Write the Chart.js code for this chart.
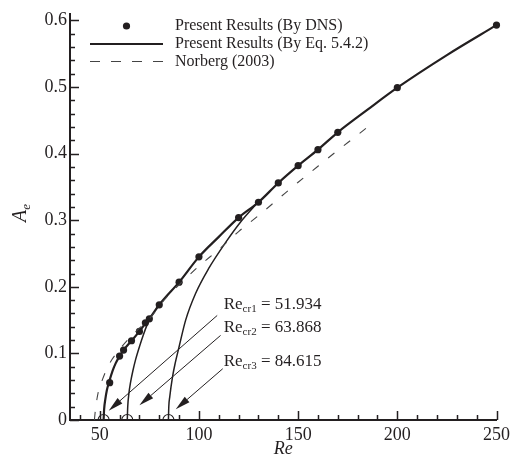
<!DOCTYPE html>
<html>
<head>
<meta charset="utf-8">
<script src="https://cdn.jsdelivr.net/npm/chart.js@4.4.0/dist/chart.umd.min.js"></script>
<style>
  html, body { margin: 0; padding: 0; background: #fff; }
</style>
</head>
<body>
<canvas id="ampChart" width="514" height="459"></canvas>
<script>
// -------------------- DATA --------------------
const xTickValues = [50, 100, 150, 200, 250];
const yTickValues = [0, 0.1, 0.2, 0.3, 0.4, 0.5, 0.6];

// DNS amplitudes
const dnsRe = [55, 60, 62, 66, 70, 73, 75, 80, 90, 100, 120, 130, 140, 150, 160, 170, 200, 250];
const dnsAe = [0.056, 0.096, 0.105, 0.119, 0.133, 0.146, 0.152, 0.173, 0.207, 0.245, 0.304, 0.327, 0.356, 0.382, 0.406, 0.432, 0.499, 0.593];

// Eq. 5.4.2 branches, one per critical Reynolds number
const fit1Re = [51.934, 52.2, 52.8, 53.6, 54.7, 56.5, 58, 60, 62, 66, 70, 73, 75, 80, 90, 100, 110, 120, 130, 140, 150, 160, 170, 185, 200, 225, 250];
const fit1Ae = [0, 0.016, 0.031, 0.045, 0.057, 0.074, 0.085, 0.096, 0.105, 0.119, 0.133, 0.145, 0.152, 0.173, 0.207, 0.245, 0.275, 0.304, 0.327, 0.356, 0.382, 0.406, 0.432, 0.466, 0.499, 0.548, 0.593];
const fit2Re = [63.868, 64.1, 64.7, 65.5, 66.7, 68, 70, 72, 74, 75.5];
const fit2Ae = [0, 0.02, 0.04, 0.056, 0.074, 0.09, 0.11, 0.128, 0.144, 0.154];
const fit3Re = [84.615, 84.8, 85.3, 86.7, 88, 90, 93.3, 98.3, 105, 113.3, 121.7, 130];
const fit3Ae = [0, 0.02, 0.035, 0.065, 0.085, 0.11, 0.15, 0.19, 0.228, 0.266, 0.3, 0.328];

// Norberg (2003)
const norbergRe = [47.3, 47.8, 48.5, 49.5, 51, 53.3, 56, 60, 65, 70, 75, 83.3, 90, 100, 110, 120, 130, 140, 150, 160, 170, 180, 188];
const norbergAe = [0, 0.015, 0.03, 0.045, 0.058, 0.075, 0.09, 0.106, 0.123, 0.138, 0.152, 0.183, 0.203, 0.231, 0.256, 0.283, 0.307, 0.332, 0.357, 0.381, 0.405, 0.428, 0.447];

// critical Reynolds numbers
const critNames = ["cr1", "cr2", "cr3"];
const critRe = [51.934, 63.868, 84.615];

const ink = "#231f20";
const serif = "'Liberation Serif', 'DejaVu Serif', serif";

const pts = (xs, ys) => xs.map((x, i) => ({ x: x, y: ys[i] }));

function fitSet(xs, ys, width) {
  return {
    data: pts(xs, ys),
    borderColor: ink,
    borderWidth: width,
    pointRadius: 0,
    showLine: true,
    cubicInterpolationMode: "monotone"
  };
}

// -------------------- EXTRA DRAWING --------------------
// label anchor (Re, Ae) and arrow from -> to, in data units
const callouts = [
  { text: [112.5, 0.166], from: [109.2, 0.157], to: [54.5, 0.014] },
  { text: [112.5, 0.132], from: [110.9, 0.127], to: [70.0, 0.022] },
  { text: [112.5, 0.081], from: [112.0, 0.077], to: [88.3, 0.016] }
];

function arrow(c, x0, y0, x1, y1) {
  const ang = Math.atan2(y1 - y0, x1 - x0);
  const len = 15, half = 3.6;
  const bx = x1 - len * Math.cos(ang), by = y1 - len * Math.sin(ang);
  c.beginPath();
  c.moveTo(x0, y0);
  c.lineTo(bx, by);
  c.lineWidth = 1;
  c.strokeStyle = ink;
  c.stroke();
  c.beginPath();
  c.moveTo(x1, y1);
  c.lineTo(bx + half * Math.sin(ang), by - half * Math.cos(ang));
  c.lineTo(bx - half * Math.sin(ang), by + half * Math.cos(ang));
  c.closePath();
  c.fillStyle = ink;
  c.fill();
}

const decorPlugin = {
  id: "decor",
  afterDraw(chart) {
    const c = chart.ctx;
    const xs = chart.scales.x, ys = chart.scales.y;
    const area = chart.chartArea;
    c.save();
    c.strokeStyle = ink;
    c.fillStyle = ink;

    // inward ticks
    c.lineWidth = 1.5;
    c.beginPath();
    for (let v = 40; v <= 250; v += 10) {
      const px = Math.round(xs.getPixelForValue(v)) + 0.5;
      const len = v % 50 === 0 ? 9 : 5;
      c.moveTo(px, area.bottom);
      c.lineTo(px, area.bottom - len);
    }
    for (let k = 0; k <= 30; k++) {
      const v = k * 0.02;
      const py = Math.round(ys.getPixelForValue(v)) + 0.5;
      const len = k % 5 === 0 ? 9 : 5;
      c.moveTo(area.left, py);
      c.lineTo(area.left + len, py);
    }
    c.stroke();

    // axis titles
    c.font = "italic 18px " + serif;
    c.textAlign = "center";
    c.textBaseline = "alphabetic";
    c.fillText("Re", xs.getPixelForValue(142.5), 454);
    c.save();
    c.translate(26, 222);
    c.rotate(-Math.PI / 2);
    c.textAlign = "left";
    c.font = "italic 20px " + serif;
    c.fillText("A", 0, 0);
    const aw = c.measureText("A").width;
    c.font = "italic 13px " + serif;
    c.fillText("e", aw, 4);
    c.restore();

    // legend
    c.textAlign = "left";
    c.textBaseline = "middle";
    c.font = "16px " + serif;
    const lx0 = 90, lx1 = 163, tx = 175;
    const rows = [26, 44, 61.5];
    c.beginPath();
    c.arc((lx0 + lx1) / 2, rows[0], 3.6, 0, Math.PI * 2);
    c.fill();
    c.fillText("Present Results (By DNS)", tx, rows[0]);
    c.beginPath();
    c.moveTo(lx0, rows[1]);
    c.lineTo(lx1, rows[1]);
    c.lineWidth = 2;
    c.stroke();
    c.fillText("Present Results (By Eq. 5.4.2)", tx, rows[1]);
    c.beginPath();
    c.setLineDash([10, 11]);
    c.moveTo(lx0, rows[2]);
    c.lineTo(lx1, rows[2]);
    c.lineWidth = 1.1;
    c.strokeStyle = "#444";
    c.stroke();
    c.setLineDash([]);
    c.strokeStyle = ink;
    c.fillText("Norberg (2003)", tx, rows[2]);

    // critical Re callouts
    c.textBaseline = "alphabetic";
    callouts.forEach((cl, i) => {
      let x = xs.getPixelForValue(cl.text[0]);
      const y = ys.getPixelForValue(cl.text[1]);
      c.font = "17px " + serif;
      c.fillText("Re", x, y);
      x += c.measureText("Re").width;
      c.font = "11px " + serif;
      c.fillText(critNames[i], x, y + 3);
      x += c.measureText(critNames[i]).width;
      c.font = "17px " + serif;
      c.fillText(" = " + critRe[i].toFixed(3), x, y);
      arrow(c,
        xs.getPixelForValue(cl.from[0]), ys.getPixelForValue(cl.from[1]),
        xs.getPixelForValue(cl.to[0]), ys.getPixelForValue(cl.to[1]));
    });
    c.restore();
  }
};

// -------------------- CHART --------------------
const ctx = document.getElementById("ampChart").getContext("2d");

new Chart(ctx, {
  type: "scatter",
  data: {
    datasets: [
      Object.assign(fitSet(norbergRe, norbergAe, 1.1), { borderColor: "#444", borderDash: [8, 12] }),
      fitSet(fit1Re, fit1Ae, 2.2),
      fitSet(fit2Re, fit2Ae, 1.5),
      fitSet(fit3Re, fit3Ae, 1.5),
      {
        data: pts(dnsRe, dnsAe),
        showLine: false,
        pointRadius: 3.6,
        pointBackgroundColor: ink,
        pointBorderWidth: 0,
        clip: false
      },
      {
        data: critRe.map(r => ({ x: r, y: 0 })),
        showLine: false,
        pointRadius: 5.5,
        pointBackgroundColor: "rgba(0,0,0,0)",
        pointBorderColor: ink,
        pointBorderWidth: 1.1,
        clip: { left: 10, right: 10, top: 10, bottom: 0 }
      }
    ]
  },
  options: {
    responsive: false,
    animation: false,
    devicePixelRatio: 1,
    layout: { padding: { top: 13, right: 12, left: 0, bottom: 0 } },
    plugins: { legend: { display: false }, tooltip: { enabled: false } },
    scales: {
      x: {
        type: "linear",
        min: 35,
        max: 250,
        grid: { display: false, drawTicks: false },
        border: { display: true, width: 2, color: ink },
        ticks: {
          autoSkip: false,
          maxRotation: 0,
          padding: 4,
          color: ink,
          font: { family: serif, size: 18 },
          callback: v => String(v)
        },
        afterBuildTicks: s => { s.ticks = xTickValues.map(v => ({ value: v })); },
        afterFit: s => { s.height = 39; }
      },
      y: {
        type: "linear",
        min: 0,
        max: 0.61,
        grid: { display: false, drawTicks: false },
        border: { display: true, width: 2, color: ink },
        ticks: {
          autoSkip: false,
          padding: 3,
          color: ink,
          font: { family: serif, size: 18 },
          callback: v => (v === 0 ? "0" : v.toFixed(1))
        },
        afterBuildTicks: s => { s.ticks = yTickValues.map(v => ({ value: v })); },
        afterFit: s => { s.width = 70; }
      }
    }
  },
  plugins: [decorPlugin]
});
</script>
</body>
</html>
